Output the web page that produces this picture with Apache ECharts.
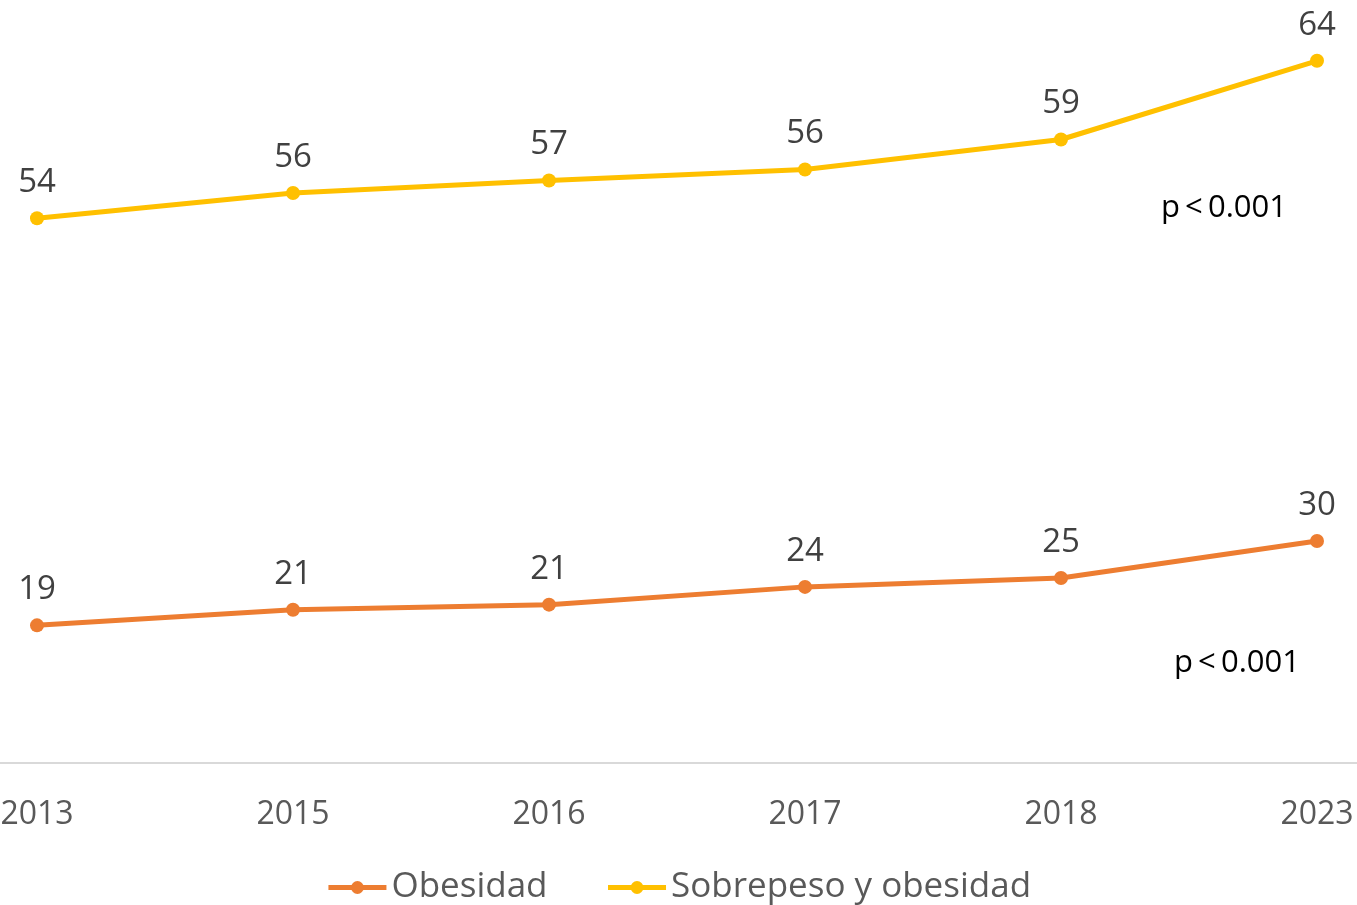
<!DOCTYPE html>
<html>
<head>
<meta charset="utf-8">
<script src="https://cdn.jsdelivr.net/npm/echarts@6/dist/echarts.min.js"></script>
<style>
  html, body { margin: 0; padding: 0; background: #fff; }
  #chart { width: 1357px; height: 905px; }
</style>
</head>
<body>
<div id="chart"></div>
<script>
// categories and values
const years = ['2013', '2015', '2016', '2017', '2018', '2023']
const obesidad = [18.6, 20.7, 21.4, 23.8, 25.0, 30.0]
const obesidadLabels = ['19', '21', '21', '24', '25', '30']
const sobrepeso = [54.6, 56.2, 57.0, 57.7, 59.6, 64.6]
const sobrepesoLabels = ['54', '56', '57', '56', '59', '64']

const FONT = '"Open Sans", "Noto Sans", sans-serif'
const chart = echarts.init(document.getElementById('chart'))

function labelFrom(arr) {
  return {
    show: true,
    position: 'top',
    distance: 12,
    fontFamily: FONT,
    fontSize: 33,
    color: '#404040',
    formatter: (p) => arr[p.dataIndex],
  }
}

chart.setOption({
  animation: false,
  backgroundColor: '#fff',
  // grid spills past the canvas so the axis line runs edge to edge
  grid: { left: -91, right: -88, top: 23, bottom: 142, outerBoundsMode: 'none', containLabel: false },
  legend: {
    data: ['Obesidad', 'Sobrepeso y obesidad'],
    left: 'center',
    top: 865,
    itemWidth: 58,
    itemHeight: 16,
    itemGap: 58,
    lineStyle: { width: 5 },
    textStyle: { fontFamily: FONT, fontSize: 35, color: '#595959' },
  },
  xAxis: {
    type: 'category',
    data: years,
    boundaryGap: true,
    axisLine: { lineStyle: { color: '#d9d9d9', width: 2 } },
    axisTick: { show: false },
    axisLabel: { margin: 36, fontFamily: FONT, fontSize: 32, color: '#595959' },
  },
  yAxis: [
    { type: 'value', min: 0, max: 100, show: false, splitLine: { show: false } },
    { type: 'value', min: 20, max: 67, show: false, splitLine: { show: false } },
  ],
  series: [
    {
      name: 'Obesidad',
      type: 'line',
      yAxisIndex: 0,
      data: obesidad,
      symbol: 'circle',
      symbolSize: 14,
      lineStyle: { color: '#ED7D31', width: 5 },
      itemStyle: { color: '#ED7D31' },
      label: labelFrom(obesidadLabels),
    },
    {
      name: 'Sobrepeso y obesidad',
      type: 'line',
      yAxisIndex: 1,
      data: sobrepeso,
      symbol: 'circle',
      symbolSize: 14,
      lineStyle: { color: '#FFC000', width: 5 },
      itemStyle: { color: '#FFC000' },
      label: labelFrom(sobrepesoLabels),
    },
  ],
  graphic: [
    {
      type: 'text', left: 1161, top: 193,
      style: { text: 'p\u2009<\u20090.001', fill: '#000', font: '31px ' + FONT },
    },
    {
      type: 'text', left: 1174, top: 648,
      style: { text: 'p\u2009<\u20090.001', fill: '#000', font: '31px ' + FONT },
    },
  ],
})
</script>
</body>
</html>
